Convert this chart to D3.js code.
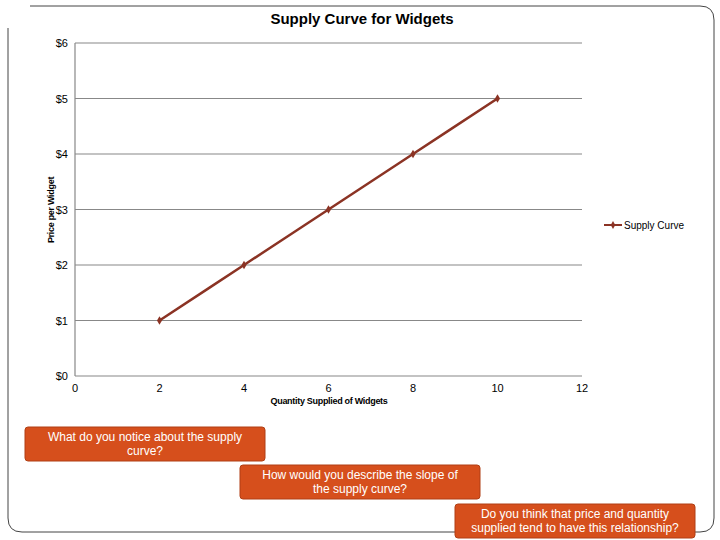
<!DOCTYPE html><html><head><meta charset="utf-8"><script src="https://cdn.jsdelivr.net/npm/d3@7"></script>
<style>body{margin:0;background:#fff}</style></head><body><svg id="c" width="720" height="540"></svg>
<script>
const quantities=[2,4,6,8,10];
const prices=[1,2,3,4,5];
const xTicks=[0,2,4,6,8,10,12];
const yTicks=[0,1,2,3,4,5,6];
const seriesName="Supply Curve";
const questions=[
 {t:["What do you notice about the supply","curve?"],x:25,y:427,w:240,h:34},
 {t:["How would you describe the slope of","the supply curve?"],x:240,y:465,w:240,h:34},
 {t:["Do you think that price and quantity","supplied tend to have this relationship?"],x:455,y:504,w:240,h:34}];
const svg=d3.select("#c");
svg.append("path").attr("d","M30,6 H700 Q714,6 714,20 V518 Q714,532 700,532 H22 Q8,532 8,518 V28").attr("fill","none").attr("stroke","#444").attr("stroke-width",1);
const x=d3.scaleLinear().domain([0,12]).range([75,582]);
const y=d3.scaleLinear().domain([0,6]).range([376,43]);
svg.append("text").attr("x",362).attr("y",24).attr("text-anchor","middle").attr("font-family","Liberation Sans, Arial").attr("font-weight","bold").attr("font-size",15).text("Supply Curve for Widgets");
const g=svg.append("g");
g.selectAll("line.g").data(yTicks).join("line").attr("x1",75).attr("x2",582).attr("y1",d=>y(d)).attr("y2",d=>y(d)).attr("stroke","#888").attr("stroke-width",1.2);
g.append("line").attr("x1",75).attr("x2",75).attr("y1",43).attr("y2",376).attr("stroke","#888").attr("stroke-width",1.2);
g.selectAll("text.y").data(yTicks).join("text").attr("x",68).attr("y",d=>y(d)+4).attr("text-anchor","end").attr("font-family","Liberation Sans, Arial").attr("font-size",11).text(d=>"$"+d);
g.selectAll("text.x").data(xTicks).join("text").attr("x",d=>x(d)).attr("y",392).attr("text-anchor","middle").attr("font-family","Liberation Sans, Arial").attr("font-size",11).text(d=>d);
svg.append("text").attr("x",329).attr("y",404).attr("text-anchor","middle").attr("font-family","Liberation Sans, Arial").attr("font-weight","bold").attr("font-size",9).attr("letter-spacing",-0.3).text("Quantity Supplied of Widgets");
svg.append("text").attr("transform","translate(54,210) rotate(-90)").attr("text-anchor","middle").attr("font-family","Liberation Sans, Arial").attr("font-weight","bold").attr("font-size",9).attr("letter-spacing",-0.3).text("Price per Widget");
const pts=quantities.map((q,i)=>[q,prices[i]]);
const col="#8b3324";
svg.append("path").attr("d",d3.line().x(d=>x(d[0])).y(d=>y(d[1])).curve(d3.curveCatmullRom)(pts)).attr("fill","none").attr("stroke",col).attr("stroke-width",2.5);
svg.selectAll("path.m").data(pts).join("path").attr("d",d3.symbol(d3.symbolDiamond,22)).attr("transform",d=>`translate(${x(d[0])},${y(d[1])})`).attr("fill",col);
svg.append("line").attr("x1",604).attr("x2",622).attr("y1",225).attr("y2",225).attr("stroke",col).attr("stroke-width",2);
svg.append("path").attr("d",d3.symbol(d3.symbolDiamond,18)).attr("transform","translate(613,225)").attr("fill",col);
svg.append("text").attr("x",624).attr("y",229).attr("font-family","Liberation Sans, Arial").attr("font-size",10).text(seriesName);
const qb=svg.selectAll("g.q").data(questions).join("g");
qb.append("rect").attr("x",d=>d.x).attr("y",d=>d.y).attr("width",d=>d.w).attr("height",d=>d.h).attr("rx",3).attr("fill","#d64f1c").attr("stroke","#b03f14");
qb.each(function(d){d3.select(this).selectAll("text").data(d.t).join("text").attr("x",d.x+d.w/2).attr("y",(t,i)=>d.y+14+i*14).attr("text-anchor","middle").attr("fill","#fff").attr("font-family","Liberation Sans, Arial").attr("font-size",12).text(t=>t);});
</script></body></html>
